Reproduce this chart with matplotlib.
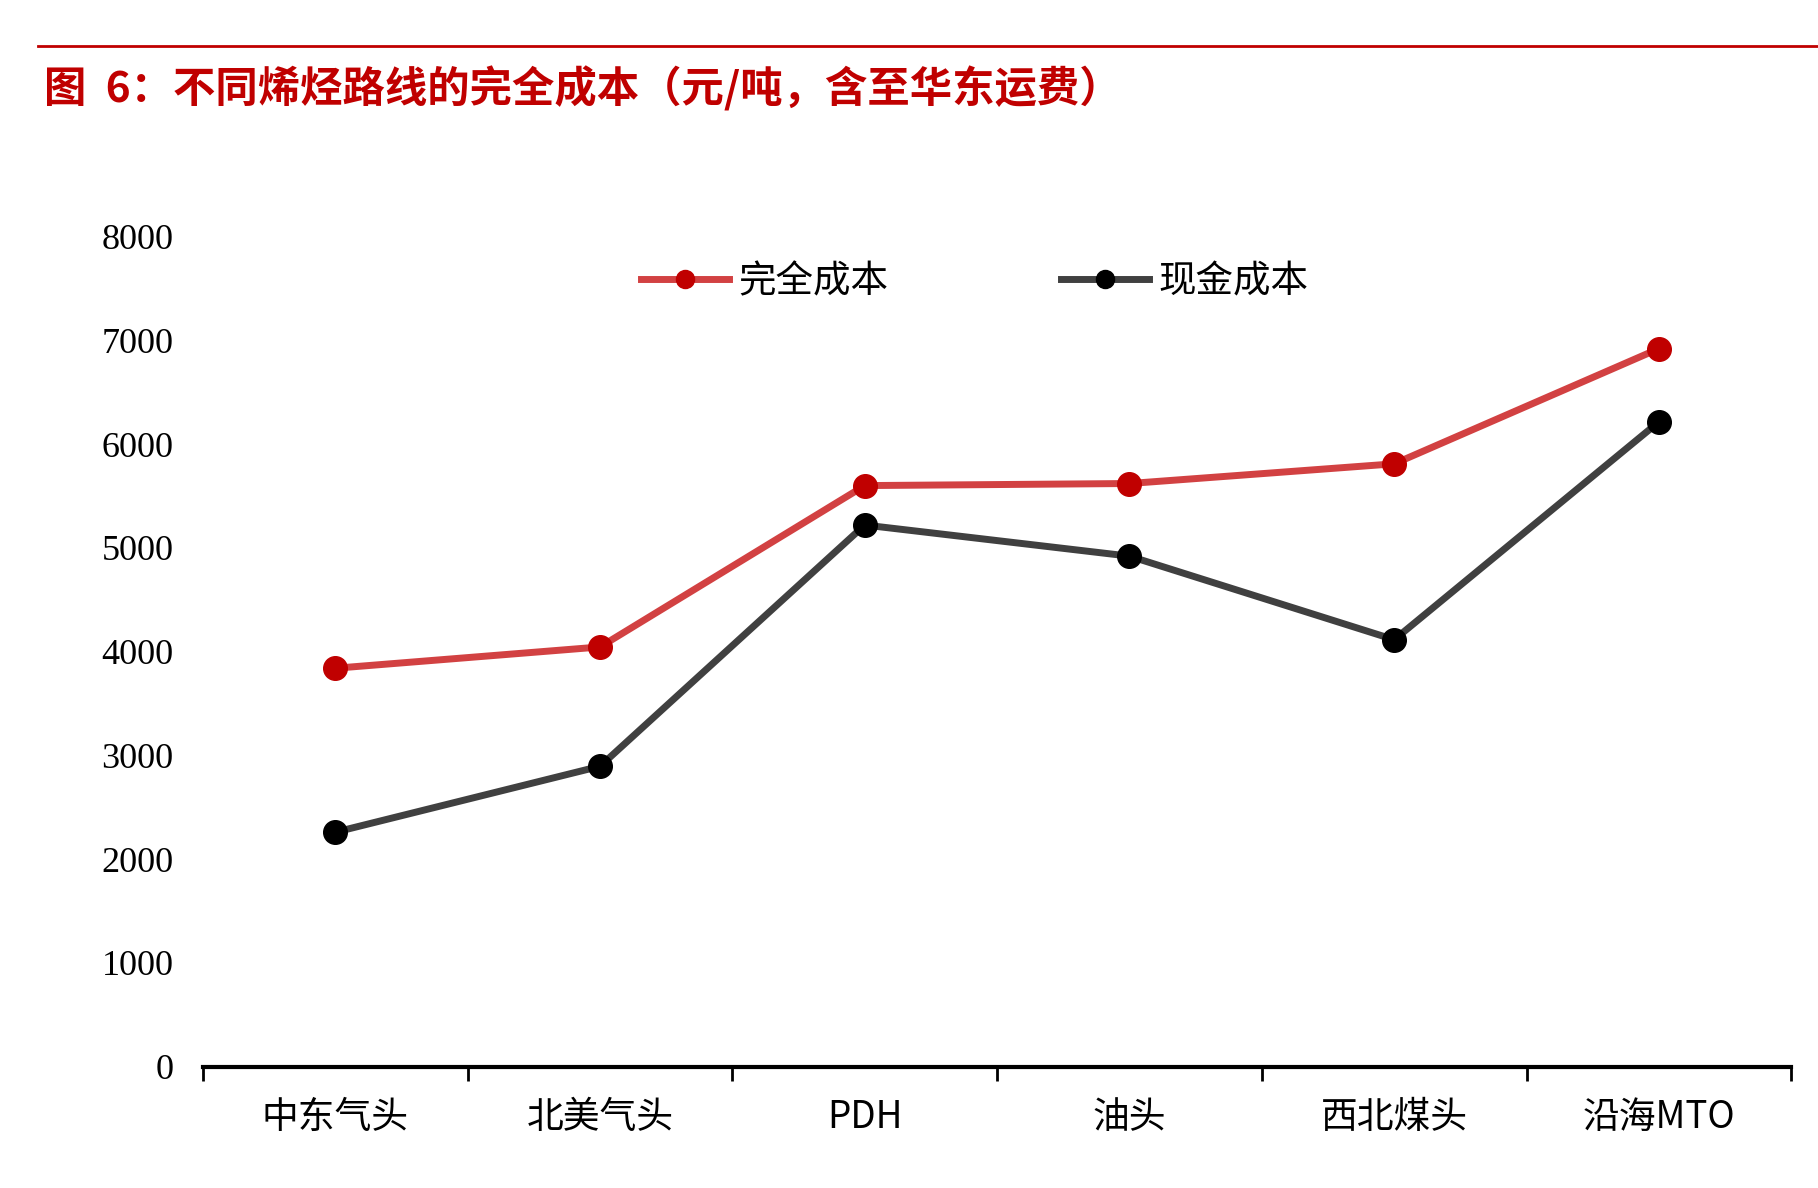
import matplotlib
matplotlib.use("Agg")
import matplotlib.pyplot as plt
from matplotlib.lines import Line2D

categories = ["中东气头", "北美气头", "PDH", "油头", "西北煤头", "沿海MTO"]
full_cost = [3840, 4045, 5600, 5620, 5810, 6920]
cash_cost = [2260, 2895, 5220, 4920, 4115, 6215]
yticks = [0, 1000, 2000, 3000, 4000, 5000, 6000, 7000, 8000]

title = "图  6：不同烯烃路线的完全成本（元/吨，含至华东运费）"

fig = plt.figure(figsize=(18.18, 11.88), dpi=100)
W, H = 1568.0, 1024.6
ax = fig.add_axes([175 / W, 1 - 920 / H, (1545 - 175) / W, (920 - 204) / H])

x = list(range(len(categories)))
red_line, red_mk = "#D24142", "#C00000"
blk_line, blk_mk = "#404040", "#000000"

ax.plot(x, full_cost, color=red_line, lw=5, marker="o", ms=17,
        mfc=red_mk, mec=red_mk, zorder=3, solid_capstyle="round")
ax.plot(x, cash_cost, color=blk_line, lw=5, marker="o", ms=17,
        mfc=blk_mk, mec=blk_mk, zorder=3, solid_capstyle="round")

ax.set_xlim(-0.5, len(categories) - 0.5)
ax.set_ylim(0, 8000)
ax.set_yticks(yticks)
ax.set_yticklabels([str(v) for v in yticks], family="Liberation Serif", fontsize=26)
ax.tick_params(axis="y", length=0, pad=21)

ax.set_xticks([i - 0.5 for i in range(len(categories) + 1)])
ax.set_xticklabels([])
ax.tick_params(axis="x", direction="out", length=10, width=2, color="black")
for i, c in enumerate(categories):
    ax.text(i, -300, c, ha="center", va="top", fontsize=26.5,
            family=["Noto Sans CJK SC", "Liberation Serif"], transform=ax.transData)

for s in ["left", "right", "top"]:
    ax.spines[s].set_visible(False)
ax.spines["bottom"].set_linewidth(3)
ax.spines["bottom"].set_color("black")

handles = [
    Line2D([], [], color=red_line, lw=5, marker="o", ms=13, mfc=red_mk, mec=red_mk),
    Line2D([], [], color=blk_line, lw=5, marker="o", ms=13, mfc=blk_mk, mec=blk_mk),
]
leg = fig.legend(handles, ["完全成本", "现金成本"], loc="center",
                 bbox_to_anchor=(841 / W, 1 - 243 / H), ncol=2, frameon=False,
                 prop={"family": "Noto Sans CJK SC", "size": 27},
                 handlelength=2.35, handletextpad=0.25, columnspacing=4.6)

# top red rule
fig.add_artist(Line2D([33 / W, 1.0], [1 - 40 / H, 1 - 40 / H], color="#C00000", lw=2,
                      transform=fig.transFigure))
fig.text(38 / W, 1 - 77 / H, title, color="#C00000", fontsize=30.5, fontweight="bold",
         family=["Noto Sans CJK SC", "DejaVu Sans"], va="center", ha="left")

fig.savefig("out.png", dpi=100)
